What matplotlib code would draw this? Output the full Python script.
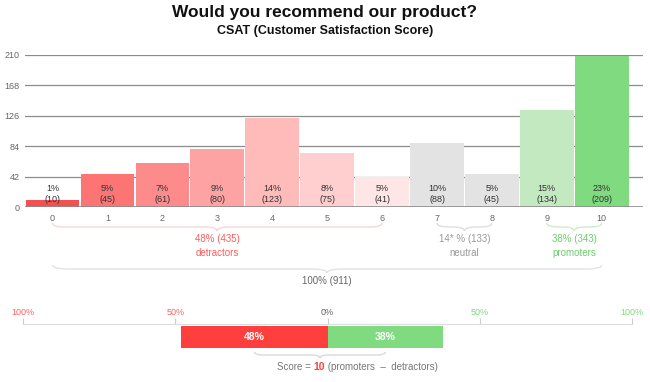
import numpy as np
import matplotlib
matplotlib.use("Agg")
import matplotlib.pyplot as plt
from matplotlib.path import Path
from matplotlib.patches import PathPatch
from matplotlib.transforms import blended_transform_factory

# data
scores = list(range(11))
counts = [10, 45, 61, 80, 123, 75, 41, 88, 45, 134, 209]
pct_labels = ["1%", "5%", "7%", "9%", "14%", "8%", "5%", "10%", "5%", "15%", "23%"]
bar_colors = ["#f55050", "#fd7474", "#fd8b8b", "#fda3a3", "#ffbaba", "#ffcfcf", "#ffe6e6",
              "#e3e3e3", "#e3e3e3", "#c3e9c1", "#80da80"]
y_ticks = [0, 42, 84, 126, 168, 210]

group_names = ["detractors", "neutral", "promoters"]
group_labels = ["48% (435)", "14* % (133)", "38% (343)"]
group_ranges = [(0, 6), (7, 8), (9, 10)]
group_text_colors = ["#ff5c5c", "#9a9a9a", "#6cce6c"]
group_brace_colors = ["#f7d6d6", "#dedede", "#cdeccd"]
total_label = "100% (911)"

detractor_pct = 48
promoter_pct = 38
nps_score = 10
bottom_ticks = [-100, -50, 0, 50, 100]
bottom_tick_labels = ["100%", "50%", "0%", "50%", "100%"]
bottom_tick_colors = ["#ff6060", "#ff6060", "#666666", "#7dd87d", "#7dd87d"]

W, H = 650, 382
fig = plt.figure(figsize=(W / 100, H / 100), dpi=100)
plt.rcParams['font.family'] = ['Liberation Sans', 'DejaVu Sans']


def frac(x0, y0, x1, y1):
    # pixel box (top-left origin) -> figure fraction rect
    return [x0 / W, 1 - y1 / H, (x1 - x0) / W, (y1 - y0) / H]


# main histogram
ax = fig.add_axes(frac(25, 55, 643, 207))
ax.bar(scores, counts, width=0.975, color=bar_colors, zorder=3)
ax.set_xlim(-0.5, 10.75)
ax.set_ylim(0, 210)
ax.set_yticks(y_ticks)
ax.set_xticks(scores)
ax.tick_params(axis='both', length=0, labelsize=6.5, colors="#666666")
ax.tick_params(axis='x', pad=5)
ax.tick_params(axis='y', pad=4)
ax.grid(axis='y', color="#8c8c8c", lw=0.9, zorder=1)
for s in ax.spines.values():
    s.set_visible(False)
ax.axhline(0, color="#8c8c8c", lw=1.2, zorder=4)

for x, c, p in zip(scores, counts, pct_labels):
    ax.text(x, 26, p, ha='center', va='center', fontsize=6.5, color="#333333", zorder=5)
    ax.text(x, 10, f"({c})", ha='center', va='center', fontsize=6.5, color="#333333", zorder=5)

# overlay in pixel space for annotations
ov = fig.add_axes([0, 0, 1, 1], zorder=-1)
ov.set_xlim(0, W)
ov.set_ylim(H, 0)
ov.axis('off')

ov.text(W / 2, 13, "Would you recommend our product?", ha='center', va='center',
        fontsize=12.5, fontweight='bold', color="#111111")
ov.text(W / 2, 31, "CSAT (Customer Satisfaction Score)", ha='center', va='center',
        fontsize=9, fontweight='bold', color="#111111")

trans = blended_transform_factory(ax.transData, ov.transData)


def brace(axis_trans, x0, x1, y0, h, r, color, lw=1.0):
    xm = (x0 + x1) / 2
    ym = y0 + h / 2
    verts = [(x0, y0), (x0, ym), (x0 + r, ym),
             (xm - r, ym),
             (xm, ym), (xm, y0 + h),
             (xm, ym), (xm + r, ym),
             (x1 - r, ym),
             (x1, ym), (x1, y0)]
    codes = [Path.MOVETO, Path.CURVE3, Path.CURVE3,
             Path.LINETO,
             Path.CURVE3, Path.CURVE3,
             Path.CURVE3, Path.CURVE3,
             Path.LINETO,
             Path.CURVE3, Path.CURVE3]
    ov.add_patch(PathPatch(Path(verts, codes), transform=axis_trans, fill=False,
                           edgecolor=color, lw=lw))


for (a, b), lab, name, tc, bc in zip(group_ranges, group_labels, group_names,
                                       group_text_colors, group_brace_colors):
    brace(trans, a, b, 223, 8, 0.22, bc)
    mid = (a + b) / 2
    ov.text(mid, 239, lab, transform=trans, ha='center', va='center', fontsize=7, color=tc)
    ov.text(mid, 253, name, transform=trans, ha='center', va='center', fontsize=7, color=tc)

brace(trans, scores[0], scores[-1], 265, 8, 0.3, "#e2e2e2")
ov.text(5, 281, total_label, transform=trans, ha='center', va='center', fontsize=7,
        color="#666666")

# bottom diverging bar
bx = fig.add_axes(frac(23, 324, 632, 349))
bx.set_xlim(-100, 100)
bx.set_ylim(0, 1)
bx.barh(0.48, -detractor_pct, height=0.88, color="#ff3e3e")
bx.barh(0.48, promoter_pct, height=0.88, color="#80da80")
bx.text(-detractor_pct / 2, 0.48, f"{detractor_pct}%", ha='center', va='center',
        fontsize=7.5, color="white", fontweight='bold')
bx.text(promoter_pct / 2, 0.48, f"{promoter_pct}%", ha='center', va='center',
        fontsize=7.5, color="white", fontweight='bold')
bx.xaxis.tick_top()
bx.set_xticks(bottom_ticks)
bx.set_xticklabels(bottom_tick_labels)
bx.tick_params(axis='x', length=4, width=0.8, color="#cccccc", labelsize=6.5, pad=1)
for lab, col in zip(bx.get_xticklabels(), bottom_tick_colors):
    lab.set_color(col)
bx.set_yticks([])
for k, s in bx.spines.items():
    s.set_visible(k == 'top')
bx.spines['top'].set_color("#dddddd")
bx.patch.set_alpha(0)

btrans = blended_transform_factory(bx.transData, ov.transData)
brace(btrans, -24, 19, 352, 6, 3, "#d9d9d9")

t1 = ov.text(277, 367, "Score = ", ha='left', va='center', fontsize=7, color="#777777")
t2 = ov.annotate(f"{nps_score}", xy=(1, 0.5), xycoords=t1, ha='left', va='center',
                 fontsize=7.5, color="#ff4040", fontweight='bold')
ov.annotate(" (promoters  \u2013  detractors)", xy=(1, 0.5), xycoords=t2, ha='left',
            va='center', fontsize=7, color="#777777")

fig.savefig("out.png", dpi=100)
